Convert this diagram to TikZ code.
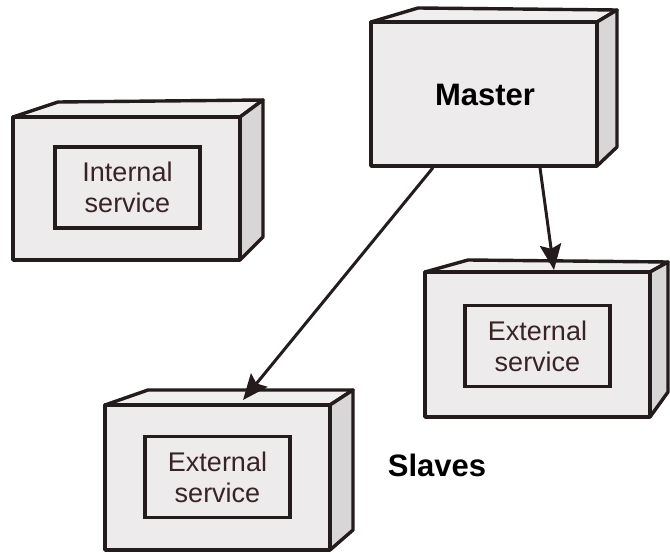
\documentclass[tikz,border=0pt]{standalone}
\usepackage{fontspec}
\setmainfont{Liberation Sans}
\usetikzlibrary{arrows.meta}
\definecolor{facefront}{HTML}{EDEBEB}
\definecolor{facetop}{HTML}{F0EEEE}
\definecolor{faceside}{HTML}{D8D6D7}
\definecolor{edge}{HTML}{241B1C}
\definecolor{svctext}{HTML}{3A2326}
\tikzset{
  face/.style={draw=edge, line width=3.4pt, line join=round},
  frontface/.style={face, fill=facefront, rectangle, inner sep=0pt},
  svcbox/.style={draw=edge, line width=3.4pt, fill=facefront, rectangle, inner sep=0pt,
    minimum width=145pt, minimum height=81pt, text=svctext, align=center,
    font=\fontsize{27}{31}\selectfont},
  title/.style={font=\bfseries\fontsize{31}{36}\selectfont, text=black},
  link/.style={draw=edge, fill=edge, line width=3pt, >={Stealth[length=9mm,width=7.5mm,inset=1.5mm]}, ->}
}
\begin{document}
\begin{tikzpicture}[x=1pt,y=-1pt]
\useasboundingbox (0,0) rectangle (670,553);

% Master node
\draw[face, fill=facetop] (371,22) -- (418,8) -- (617,10) -- (597,22) -- cycle;
\draw[face, fill=faceside] (597,22) -- (617,10) -- (617,147) -- (597,166) -- cycle;
\node[frontface, minimum width=226pt, minimum height=144pt] (master) at (484,94) {};
\node[title] (mastertext) at (485,95) {Master};

% Internal service node
\draw[face, fill=facetop] (13,117) -- (58,102) -- (263,100) -- (240,117) -- cycle;
\draw[face, fill=faceside] (240,117) -- (263,100) -- (263,237) -- (240,260) -- cycle;
\node[frontface, minimum width=227pt, minimum height=143pt] (internal) at (126.5,188.5) {};
\node[svcbox] (internalsvc) at (127.5,187.5) {Internal\\service};

% External service node, right
\draw[face, fill=facetop] (425,272) -- (468,260) -- (668,262) -- (650,272) -- cycle;
\draw[face, fill=faceside] (650,272) -- (668,262) -- (668,392) -- (650,417) -- cycle;
\node[frontface, minimum width=225pt, minimum height=145pt] (extright) at (537.5,344.5) {};
\node[svcbox] (extrightsvc) at (537.5,346) {External\\service};

% External service node, bottom
\draw[face, fill=facetop] (105,405) -- (148,390) -- (353,390) -- (330,405) -- cycle;
\draw[face, fill=faceside] (330,405) -- (353,390) -- (353,530) -- (330,550) -- cycle;
\node[frontface, minimum width=225pt, minimum height=145pt] (extbottom) at (217.5,477.5) {};
\node[svcbox] (extbottomsvc) at (217.5,477) {External\\service};

% Arrow end points on the top faces
\coordinate (tipbottom) at (243,400);
\coordinate (tipright) at (554,270);

\draw[link] (master.south -| 433,0) -- (tipbottom);
\draw[link] (master.south -| 540,0) -- (tipright);

\node[title] (slaves) at (437,465) {Slaves};
\end{tikzpicture}
\end{document}
